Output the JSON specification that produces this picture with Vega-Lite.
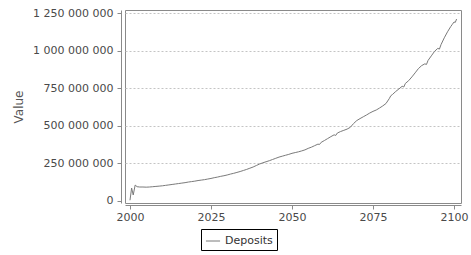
{
  "$schema": "https://vega.github.io/schema/vega-lite/v6.json",
  "autosize": "none",
  "width": 336,
  "height": 193,
  "padding": {"left": 125, "top": 10, "right": 10, "bottom": 52},
  "background": "white",
  "config": {
    "font": "DejaVu Sans",
    "view": {"stroke": "#8a8a8a", "strokeWidth": 1},
    "axis": {"labelFont": "DejaVu Sans", "labelFontSize": 11, "labelColor": "#4a4a4a", "titleFont": "DejaVu Sans", "titleFontSize": 12, "titleFontWeight": "normal", "titleColor": "#555555", "domainColor": "#8a8a8a", "tickColor": "#8a8a8a", "tickSize": 4}
  },
  "data": {"values": [
    {"year": 2000.0, "value": 5000000, "series": "Deposits"},
    {"year": 2000.5, "value": 86000000, "series": "Deposits"},
    {"year": 2001.0, "value": 40000000, "series": "Deposits"},
    {"year": 2001.6, "value": 106000000, "series": "Deposits"},
    {"year": 2002.2, "value": 95000000, "series": "Deposits"},
    {"year": 2003, "value": 93000000, "series": "Deposits"},
    {"year": 2004, "value": 93000000, "series": "Deposits"},
    {"year": 2005, "value": 92000000, "series": "Deposits"},
    {"year": 2006, "value": 93000000, "series": "Deposits"},
    {"year": 2007, "value": 95000000, "series": "Deposits"},
    {"year": 2008, "value": 97000000, "series": "Deposits"},
    {"year": 2009, "value": 99000000, "series": "Deposits"},
    {"year": 2010, "value": 101000000, "series": "Deposits"},
    {"year": 2011, "value": 104000000, "series": "Deposits"},
    {"year": 2012, "value": 107000000, "series": "Deposits"},
    {"year": 2013, "value": 110000000, "series": "Deposits"},
    {"year": 2014, "value": 113000000, "series": "Deposits"},
    {"year": 2015, "value": 116000000, "series": "Deposits"},
    {"year": 2016, "value": 119000000, "series": "Deposits"},
    {"year": 2017, "value": 122000000, "series": "Deposits"},
    {"year": 2018, "value": 126000000, "series": "Deposits"},
    {"year": 2019, "value": 129000000, "series": "Deposits"},
    {"year": 2020, "value": 132000000, "series": "Deposits"},
    {"year": 2021, "value": 136000000, "series": "Deposits"},
    {"year": 2022, "value": 139000000, "series": "Deposits"},
    {"year": 2023, "value": 142000000, "series": "Deposits"},
    {"year": 2024, "value": 146000000, "series": "Deposits"},
    {"year": 2025, "value": 150000000, "series": "Deposits"},
    {"year": 2026, "value": 155000000, "series": "Deposits"},
    {"year": 2027, "value": 159000000, "series": "Deposits"},
    {"year": 2028, "value": 164000000, "series": "Deposits"},
    {"year": 2029, "value": 168000000, "series": "Deposits"},
    {"year": 2030, "value": 173000000, "series": "Deposits"},
    {"year": 2031, "value": 179000000, "series": "Deposits"},
    {"year": 2032, "value": 184000000, "series": "Deposits"},
    {"year": 2033, "value": 190000000, "series": "Deposits"},
    {"year": 2034, "value": 196000000, "series": "Deposits"},
    {"year": 2035, "value": 203000000, "series": "Deposits"},
    {"year": 2036, "value": 210000000, "series": "Deposits"},
    {"year": 2037, "value": 218000000, "series": "Deposits"},
    {"year": 2038, "value": 226000000, "series": "Deposits"},
    {"year": 2039, "value": 236000000, "series": "Deposits"},
    {"year": 2040, "value": 246000000, "series": "Deposits"},
    {"year": 2041, "value": 254000000, "series": "Deposits"},
    {"year": 2042, "value": 261000000, "series": "Deposits"},
    {"year": 2043, "value": 268000000, "series": "Deposits"},
    {"year": 2044, "value": 276000000, "series": "Deposits"},
    {"year": 2045, "value": 284000000, "series": "Deposits"},
    {"year": 2046, "value": 292000000, "series": "Deposits"},
    {"year": 2047, "value": 298000000, "series": "Deposits"},
    {"year": 2048, "value": 304000000, "series": "Deposits"},
    {"year": 2049, "value": 310000000, "series": "Deposits"},
    {"year": 2050, "value": 317000000, "series": "Deposits"},
    {"year": 2051, "value": 322000000, "series": "Deposits"},
    {"year": 2052, "value": 327000000, "series": "Deposits"},
    {"year": 2053, "value": 333000000, "series": "Deposits"},
    {"year": 2054, "value": 340000000, "series": "Deposits"},
    {"year": 2055, "value": 350000000, "series": "Deposits"},
    {"year": 2056, "value": 358000000, "series": "Deposits"},
    {"year": 2057, "value": 368000000, "series": "Deposits"},
    {"year": 2058, "value": 378000000, "series": "Deposits"},
    {"year": 2058.5, "value": 376000000, "series": "Deposits"},
    {"year": 2059, "value": 390000000, "series": "Deposits"},
    {"year": 2060, "value": 402000000, "series": "Deposits"},
    {"year": 2061, "value": 415000000, "series": "Deposits"},
    {"year": 2062, "value": 428000000, "series": "Deposits"},
    {"year": 2063, "value": 440000000, "series": "Deposits"},
    {"year": 2063.5, "value": 436000000, "series": "Deposits"},
    {"year": 2064, "value": 452000000, "series": "Deposits"},
    {"year": 2065, "value": 462000000, "series": "Deposits"},
    {"year": 2066, "value": 470000000, "series": "Deposits"},
    {"year": 2067, "value": 478000000, "series": "Deposits"},
    {"year": 2068, "value": 490000000, "series": "Deposits"},
    {"year": 2069, "value": 515000000, "series": "Deposits"},
    {"year": 2070, "value": 535000000, "series": "Deposits"},
    {"year": 2071, "value": 548000000, "series": "Deposits"},
    {"year": 2072, "value": 560000000, "series": "Deposits"},
    {"year": 2073, "value": 572000000, "series": "Deposits"},
    {"year": 2074, "value": 585000000, "series": "Deposits"},
    {"year": 2075, "value": 596000000, "series": "Deposits"},
    {"year": 2076, "value": 605000000, "series": "Deposits"},
    {"year": 2077, "value": 618000000, "series": "Deposits"},
    {"year": 2078, "value": 632000000, "series": "Deposits"},
    {"year": 2079, "value": 648000000, "series": "Deposits"},
    {"year": 2080, "value": 680000000, "series": "Deposits"},
    {"year": 2080.5, "value": 700000000, "series": "Deposits"},
    {"year": 2081, "value": 708000000, "series": "Deposits"},
    {"year": 2082, "value": 728000000, "series": "Deposits"},
    {"year": 2083, "value": 745000000, "series": "Deposits"},
    {"year": 2084, "value": 763000000, "series": "Deposits"},
    {"year": 2084.5, "value": 758000000, "series": "Deposits"},
    {"year": 2085, "value": 782000000, "series": "Deposits"},
    {"year": 2086, "value": 800000000, "series": "Deposits"},
    {"year": 2087, "value": 825000000, "series": "Deposits"},
    {"year": 2088, "value": 852000000, "series": "Deposits"},
    {"year": 2089, "value": 880000000, "series": "Deposits"},
    {"year": 2090, "value": 900000000, "series": "Deposits"},
    {"year": 2091, "value": 912000000, "series": "Deposits"},
    {"year": 2091.5, "value": 908000000, "series": "Deposits"},
    {"year": 2092, "value": 935000000, "series": "Deposits"},
    {"year": 2093, "value": 965000000, "series": "Deposits"},
    {"year": 2094, "value": 995000000, "series": "Deposits"},
    {"year": 2095, "value": 1015000000, "series": "Deposits"},
    {"year": 2095.5, "value": 1010000000, "series": "Deposits"},
    {"year": 2096, "value": 1040000000, "series": "Deposits"},
    {"year": 2097, "value": 1085000000, "series": "Deposits"},
    {"year": 2098, "value": 1125000000, "series": "Deposits"},
    {"year": 2099, "value": 1160000000, "series": "Deposits"},
    {"year": 2099.5, "value": 1175000000, "series": "Deposits"},
    {"year": 2100, "value": 1190000000, "series": "Deposits"},
    {"year": 2100.4, "value": 1188000000, "series": "Deposits"},
    {"year": 2100.8, "value": 1210000000, "series": "Deposits"}
  ]},
  "mark": {"type": "line", "strokeWidth": 1, "interpolate": "linear"},
  "encoding": {
    "x": {
      "field": "year", "type": "quantitative",
      "scale": {"domain": [1998.46, 2102.16], "nice": false, "zero": false},
      "axis": {"title": null, "values": [2000, 2025, 2050, 2075, 2100], "format": "d", "grid": false, "offset": 2, "labelPadding": 2}
    },
    "y": {
      "field": "value", "type": "quantitative",
      "scale": {"domain": [-13300000, 1270000000], "nice": false, "zero": false},
      "axis": {"title": "Value", "values": [0, 250000000, 500000000, 750000000, 1000000000, 1250000000], "labelExpr": "replace(format(datum.value, ','), regexp(',', 'g'), ' ')", "grid": true, "gridColor": "#c4c4c4", "gridDash": [2, 2], "gridOpacity": {"condition": {"test": "datum.value === 0", "value": 0}, "value": 1}, "offset": 4, "labelPadding": 4, "titlePadding": 7}
    },
    "color": {
      "field": "series", "type": "nominal",
      "scale": {"range": ["#7a7a7a"]},
      "legend": {"title": null, "orient": "none", "legendX": 76, "legendY": 219, "strokeColor": "#000000", "padding": 4, "labelFont": "DejaVu Sans", "labelFontSize": 11, "labelColor": "#333333", "symbolType": "stroke", "symbolSize": 200, "symbolStrokeWidth": 1}
    }
  }
}
